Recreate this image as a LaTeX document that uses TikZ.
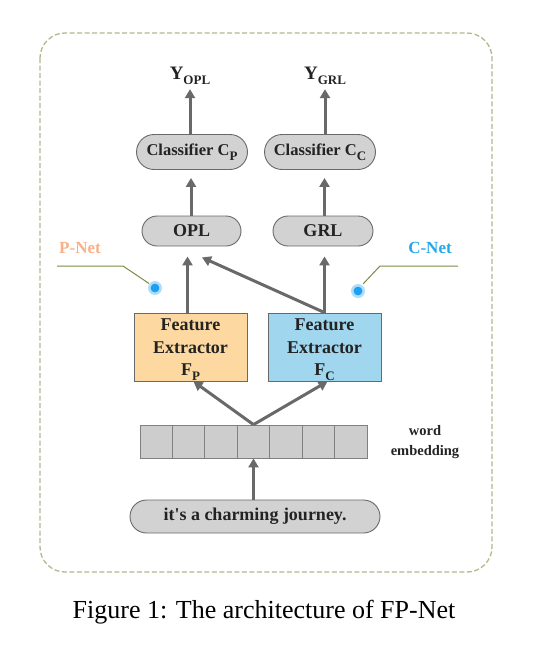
\documentclass[tikz,border=0pt]{standalone}
\usepackage{fontspec}
\setmainfont{Liberation Serif}
\usetikzlibrary{shapes.misc,arrows.meta,calc}
\definecolor{boxgray}{RGB}{210,210,210}
\definecolor{edgegray}{RGB}{105,105,105}
\definecolor{cellgray}{RGB}{205,205,205}
\definecolor{arrgray}{RGB}{105,105,105}
\definecolor{pfill}{RGB}{253,217,161}
\definecolor{cfill}{RGB}{160,214,238}
\definecolor{pnetcol}{RGB}{250,176,136}
\definecolor{cnetcol}{RGB}{35,168,235}
\definecolor{calloutgreen}{RGB}{120,140,70}
\definecolor{dashgreen}{RGB}{175,185,140}
\definecolor{txt}{RGB}{35,35,35}
\definecolor{dotblue}{RGB}{30,160,240}
\newcommand{\subt}[1]{\raisebox{-0.28em}{\fontsize{13}{13}\selectfont #1}}
\begin{document}
\begin{tikzpicture}[x=1pt,y=-1pt,
  pill/.style={rounded rectangle, draw=edgegray, fill=boxgray, line width=0.9pt, text=txt,
    font=\bfseries\fontsize{18}{20}\selectfont, inner sep=0pt},
  fxbox/.style={rectangle, draw=edgegray, line width=0.9pt,
    minimum width=113pt, minimum height=68pt, inner sep=0pt},
  fxtext/.style={text=txt, align=center, inner sep=0pt,
    font=\bfseries\fontsize{18}{22.5}\selectfont},
  cell/.style={rectangle, draw=gray, fill=cellgray, line width=0.8pt, minimum width=32.4pt, minimum height=33pt, inner sep=0pt},
  arr/.style={draw=arrgray, line width=3pt, -{Triangle[length=9pt,width=10pt]}},
  callout/.style={draw=calloutgreen, line width=1pt},
  glow/.style={circle, fill=dotblue!35, minimum size=14pt, inner sep=0pt},
  lbl/.style={text=txt, font=\bfseries\fontsize{19}{20}\selectfont, inner sep=0pt}
]
\useasboundingbox (0,0) rectangle (534,649);
\draw[dashgreen, dash pattern=on 5pt off 2.5pt, line width=1.3pt, rounded corners=25pt] (40,33) rectangle (492,572);

% labels top
\node[lbl] (yopl) at (190,76) {Y\subt{OPL}};
\node[lbl] (ygrl) at (325,76) {Y\subt{GRL}};

% classifiers
\node[pill, minimum width=111pt, minimum height=35pt, font=\bfseries\fontsize{16.5}{18}\selectfont] (cp) at (192,152) {Classifier C\subt{P}};
\node[pill, minimum width=111pt, minimum height=35pt, font=\bfseries\fontsize{16.5}{18}\selectfont] (cc) at (320,152) {Classifier C\subt{C}};

% OPL / GRL
\node[pill, minimum width=99pt, minimum height=30pt] (opl) at (191.5,231) {OPL};
\node[pill, minimum width=100pt, minimum height=30pt] (grl) at (323,231) {GRL};

% feature extractors
\node[fxbox, fill=pfill] (fp) at (190.5,347) {};
\node[fxbox, fill=cfill] (fc) at (324.5,347) {};
\node[fxtext] (fpt) at ([yshift=-3pt]fp.center) {Feature\\Extractor\\F\subt{P}};
\node[fxtext] (fct) at ([yshift=-3pt]fc.center) {Feature\\Extractor\\F\subt{C}};

% embedding
\foreach \i in {1,...,7} {
  \node[cell] (e\i) at ({140+(\i-0.5)*32.43},441.5) {};
}
\node[text=txt, font=\bfseries\fontsize{14.5}{20}\selectfont, align=center, inner sep=0pt] (we) at (425,442) {word\\embedding};

% sentence
\node[pill, minimum width=250pt, minimum height=33pt] (sent) at (255,516.5) {it\textquotesingle s a charming journey.};

% arrows
\draw[arr] (e4.south |- sent.north) -- (e4.south);
\draw[arr] (e4.north) -- ([xshift=3pt]fp.south);
\draw[arr] (e4.north) -- ([xshift=3pt]fc.south);
\draw[arr, shorten >=10pt] ([xshift=-3pt]fp.north) -- ([xshift=-3pt]fp.north |- opl.south);
\draw[arr, shorten >=10pt] (fc.north) -- (fc.north |- grl.south);
\coordinate (oplin) at ($(opl.south)+(10.5,11)$);
\draw[arr] (fc.north) -- (oplin);
\draw[arr, shorten >=8pt] (opl.north -| cp.south) ++(-1,0) coordinate (a1) (a1) -- (a1 |- cp.south);
\draw[arr, shorten >=8pt] (grl.north -| fc.north) coordinate (a2) -- (a2 |- cc.south);
\draw[arr] (cp.north -| yopl) -- ([yshift=-4pt]yopl.south);
\draw[arr] (cc.north -| ygrl) -- ([yshift=-4pt]ygrl.south);

% P-Net callout
\node[text=pnetcol, font=\bfseries\fontsize{17}{20}\selectfont, inner sep=0pt] (pnet) at (80,248) {P-Net};
\node[glow] (pdot) at (155,288) {};
\fill[dotblue] (pdot) circle (4.4pt);
\coordinate (p1) at (57,266);
\coordinate (p2) at (123,266);
\draw[callout] (p1) -- (p2) -- ($(pdot)+(-6,-4.5)$);

% C-Net callout
\node[text=cnetcol, font=\bfseries\fontsize{17}{20}\selectfont, inner sep=0pt] (cnet) at (430,248) {C-Net};
\node[glow] (cdot) at (358,291) {};
\fill[dotblue] (cdot) circle (4.4pt);
\coordinate (c1) at (458,266);
\coordinate (c2) at (380,266);
\draw[callout] (c1) -- (c2) -- ($(cdot)+(5,-7)$);

% caption
\node[font=\fontsize{26}{30}\selectfont, inner sep=0pt] (cap) at (264,612) {Figure 1: The architecture of FP-Net};
\end{tikzpicture}
\end{document}
